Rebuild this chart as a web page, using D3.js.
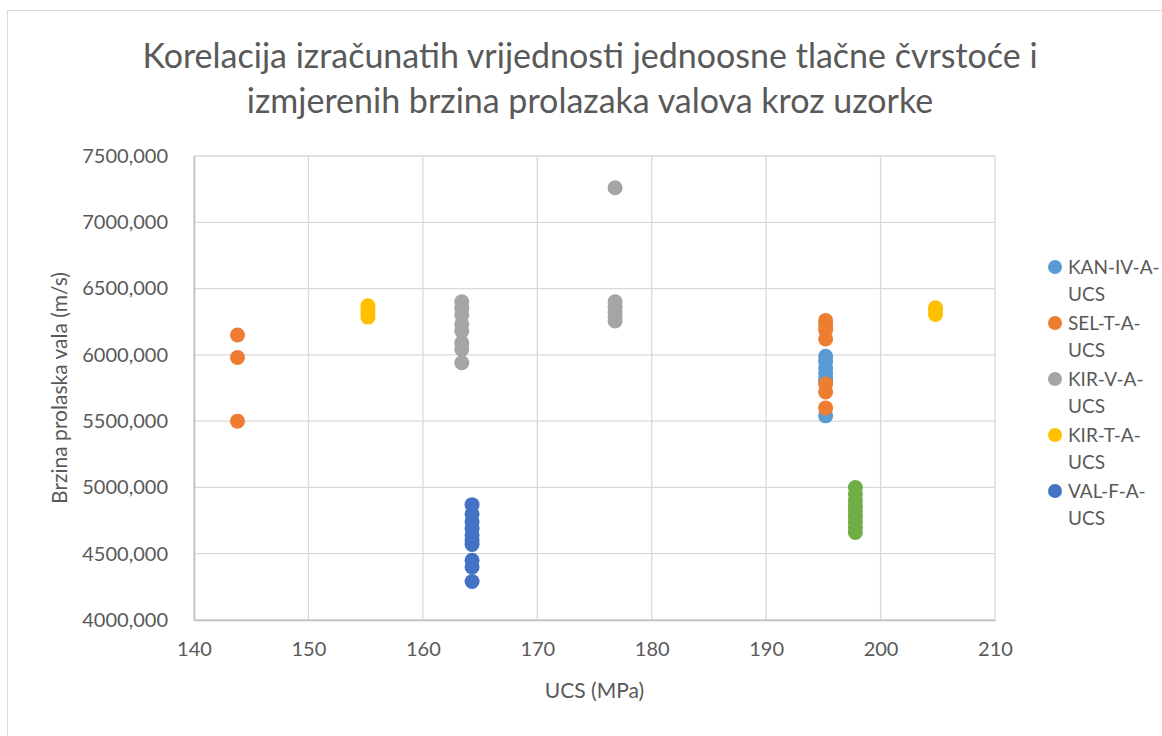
<!DOCTYPE html>
<html>
<head>
<meta charset="utf-8">
<style>
  body { margin: 0; background: #fff; }
  text { font-family: Lato, "Open Sans", sans-serif; fill: #595959; }
</style>
<title>Korelacija UCS i brzine valova</title>
</head>
<body>
<script src="https://cdn.jsdelivr.net/npm/d3@7/dist/d3.min.js"></script>
<script>
// series names (legend shows only the first five, the 6th is cut off)
const seriesNames = ["KAN-IV-A-UCS", "SEL-T-A-UCS", "KIR-V-A-UCS", "KIR-T-A-UCS", "VAL-F-A-UCS", "Serija 6"];
const seriesColors = ["#5B9BD5", "#ED7D31", "#A5A5A5", "#FFC000", "#4472C4", "#70AD47"];

// UCS (MPa) and wave velocity (m/s) per series
const kanX = [195.2, 195.2, 195.2, 195.2, 195.2, 195.2, 195.2];
const kanY = [5990, 5950, 5900, 5860, 5820, 5800, 5540];

const selX = [143.8, 143.8, 143.8, 195.2, 195.2, 195.2, 195.2, 195.2, 195.2, 195.2];
const selY = [6150, 5980, 5500, 6260, 6230, 6190, 6120, 5780, 5720, 5600];

const kirVX = [163.4, 163.4, 163.4, 163.4, 163.4, 163.4, 163.4, 163.4, 176.8, 176.8, 176.8, 176.8, 176.8, 176.8];
const kirVY = [6400, 6350, 6300, 6230, 6180, 6090, 6040, 5940, 7260, 6400, 6360, 6320, 6290, 6255];

const kirTX = [155.2, 155.2, 155.2, 155.2, 204.8, 204.8, 204.8];
const kirTY = [6370, 6340, 6310, 6285, 6355, 6330, 6305];

const valX = [164.3, 164.3, 164.3, 164.3, 164.3, 164.3, 164.3, 164.3, 164.3, 164.3];
const valY = [4870, 4800, 4740, 4690, 4640, 4600, 4570, 4450, 4400, 4290];

const s6X = [197.8, 197.8, 197.8, 197.8, 197.8, 197.8, 197.8, 197.8, 197.8];
const s6Y = [5000, 4950, 4900, 4860, 4820, 4780, 4740, 4700, 4660];

const xTicks = [140, 150, 160, 170, 180, 190, 200, 210];
const yTicks = [4000, 4500, 5000, 5500, 6000, 6500, 7000, 7500];

const titleLines = ["Korelacija izračunatih vrijednosti jednoosne tlačne čvrstoće i",
                    "izmjerenih brzina prolazaka valova kroz uzorke"];

const series = [[kanX, kanY], [selX, selY], [kirVX, kirVY], [kirTX, kirTY], [valX, valY], [s6X, s6Y]]
  .map(function (s, i) {
    return { name: seriesNames[i], color: seriesColors[i],
             points: s[0].map(function (x, j) { return { x: x, y: s[1][j] }; }) };
  });

const W = 1162, H = 736;
const margin = { top: 156, left: 194, right: 167, bottom: 116 };
const width = W - margin.left - margin.right;
const height = H - margin.top - margin.bottom;

const x = d3.scaleLinear().domain([140, 210]).range([0, width]);
const y = d3.scaleLinear().domain([4000, 7500]).range([height, 0]);

const hr = d3.formatLocale({ decimal: ",", thousands: "", grouping: [3], currency: ["", ""] });
const yFmt = hr.format(".3f");

const svg = d3.select("body").append("svg")
  .attr("width", W)
  .attr("height", H);

// outer chart border
svg.append("rect")
  .attr("x", 7.5).attr("y", 10.5)
  .attr("width", W + 20).attr("height", H + 20)
  .attr("fill", "none").attr("stroke", "#d9d9d9");

// title
svg.append("g").selectAll("text")
  .data(titleLines)
  .enter().append("text")
  .attr("x", 590)
  .attr("y", function (d, i) { return 68 + i * 45; })
  .attr("text-anchor", "middle")
  .style("font-size", "34px")
  .text(function (d) { return d; });

const g = svg.append("g")
  .attr("transform", "translate(" + margin.left + "," + margin.top + ")");

// gridlines
g.append("g").selectAll("line")
  .data(xTicks)
  .enter().append("line")
  .attr("x1", function (d) { return x(d); }).attr("x2", function (d) { return x(d); })
  .attr("y1", 0).attr("y2", height)
  .attr("stroke", "#d9d9d9").attr("stroke-width", 1.3);

g.append("g").selectAll("line")
  .data(yTicks)
  .enter().append("line")
  .attr("x1", 0).attr("x2", width)
  .attr("y1", function (d) { return y(d); }).attr("y2", function (d) { return y(d); })
  .attr("stroke", "#d9d9d9").attr("stroke-width", 1.3);

// axes
const xAxis = g.append("g")
  .attr("transform", "translate(0," + height + ")")
  .call(d3.axisBottom(x).tickValues(xTicks).tickSize(0).tickPadding(22));
const yAxis = g.append("g")
  .call(d3.axisLeft(y).tickValues(yTicks).tickSize(0).tickPadding(26).tickFormat(yFmt));

[xAxis, yAxis].forEach(function (a) {
  a.select(".domain").attr("stroke", "#bfbfbf").attr("stroke-width", 1.5);
  a.selectAll("text").style("font-size", "20px").attr("fill", "#595959")
    .style("font-family", "Lato, 'Open Sans', sans-serif");
});

// axis titles
svg.append("text")
  .attr("x", margin.left + width / 2)
  .attr("y", 698)
  .attr("text-anchor", "middle")
  .style("font-size", "21px")
  .text("UCS (MPa)");

svg.append("text")
  .attr("transform", "translate(67," + (margin.top + height / 2) + ") rotate(-90)")
  .attr("text-anchor", "middle")
  .style("font-size", "21px")
  .text("Brzina prolaska vala (m/s)");

// points
series.forEach(function (s) {
  g.append("g").selectAll("circle")
    .data(s.points)
    .enter().append("circle")
    .attr("cx", function (d) { return x(d.x); })
    .attr("cy", function (d) { return y(d.y); })
    .attr("r", 7.5)
    .attr("fill", s.color);
});

// legend (only first five entries fit)
const legend = svg.append("g").selectAll("g")
  .data(series.slice(0, 5))
  .enter().append("g")
  .attr("transform", function (d, i) { return "translate(1055," + (267 + i * 56) + ")"; });

legend.append("circle").attr("r", 7).attr("fill", function (d) { return d.color; });
legend.append("text")
  .attr("x", 13).attr("y", 7)
  .style("font-size", "19px")
  .text(function (d) { return d.name.slice(0, d.name.length - 3); });
legend.append("text")
  .attr("x", 13).attr("y", 34)
  .style("font-size", "19px")
  .text("UCS");
</script>
</body>
</html>
